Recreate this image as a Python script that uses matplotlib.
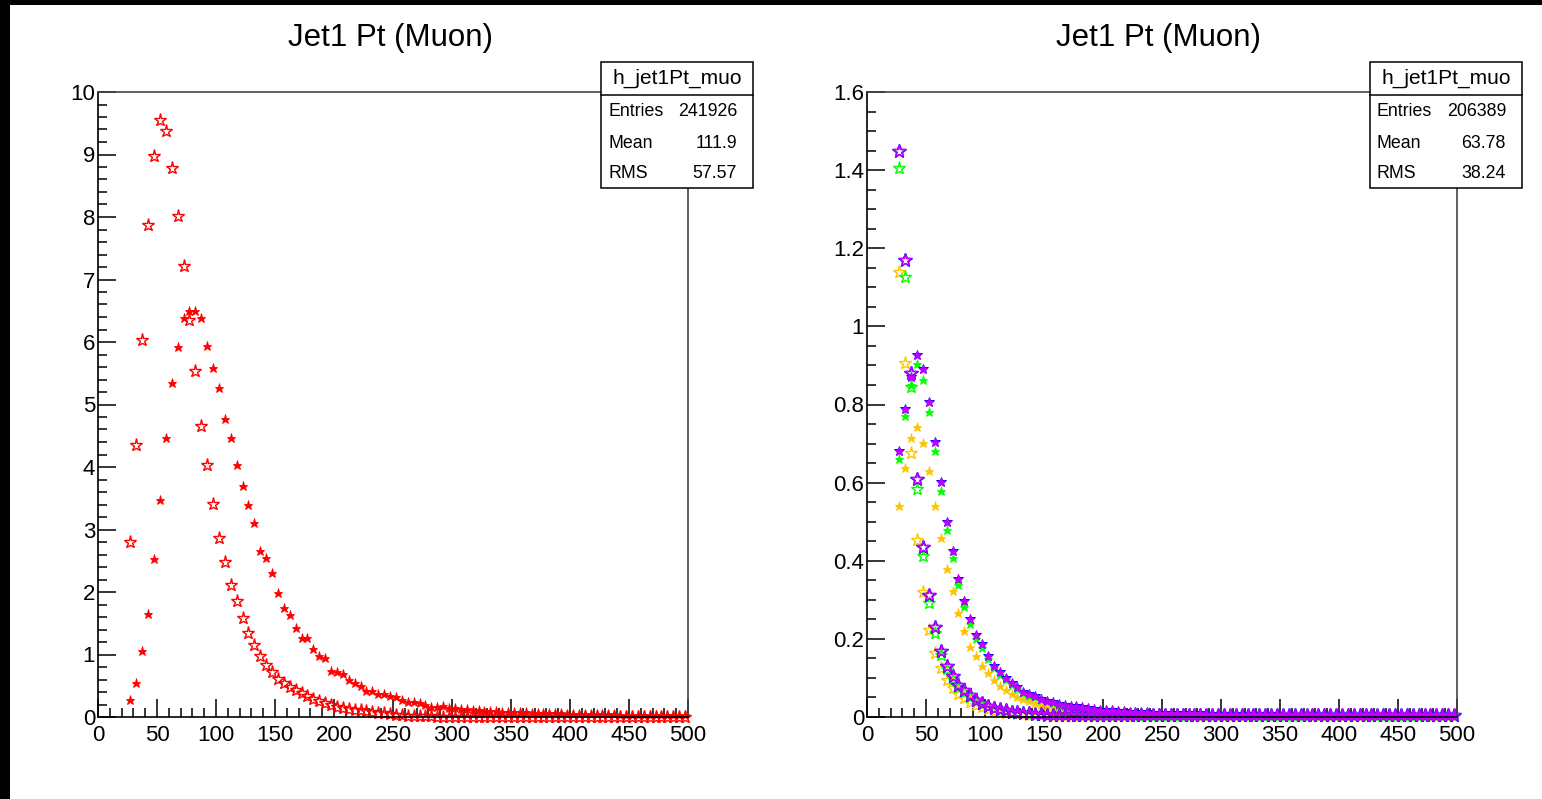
import numpy as np
import matplotlib
matplotlib.use("Agg")
import matplotlib.pyplot as plt
from matplotlib.patches import Rectangle
from matplotlib.lines import Line2D
from matplotlib.ticker import MultipleLocator, FuncFormatter

plt.rcParams["font.family"] = ["Liberation Sans", "DejaVu Sans"]

W, H = 1542, 799
BIN_WIDTH = 5.0
FIRST_BIN_CENTER = 27.5

title = "Jet1 Pt (Muon)"
stats_name = "h_jet1Pt_muo"
stats_left = [("Entries", "241926"), ("Mean", "111.9"), ("RMS", "57.57")]
stats_right = [("Entries", "206389"), ("Mean", "63.78"), ("RMS", "38.24")]

# ---- left pad: two red histograms (open / filled star markers) ----
left_open = [
    2.80, 4.35, 6.03, 7.87, 8.97, 9.55, 9.37, 8.78, 8.02, 7.22,
    6.35, 5.53, 4.66, 4.03, 3.41, 2.86, 2.48, 2.12, 1.86, 1.58,
    1.35, 1.15, 0.98, 0.83, 0.72, 0.61, 0.54, 0.48, 0.44, 0.39,
    0.34, 0.29, 0.25, 0.22, 0.19, 0.165, 0.15, 0.135, 0.12, 0.105,
    0.095, 0.085, 0.07, 0.058, 0.046, 0.035, 0.028, 0.022, 0.017, 0.013,
    0.011, 0.009, 0.007, 0.006, 0.005, 0.005, 0.004, 0.004, 0.004, 0.003,
    0.003, 0.003, 0.003, 0.002, 0.002, 0.002, 0.002, 0.002, 0.002, 0.002,
    0.001, 0.002, 0.001, 0.001, 0.001, 0.001, 0.001, 0.001, 0.001, 0.001,
    0.001, 0.001, 0.001, 0.001, 0.001, 0.001, 0.001, 0.001, 0.001, 0.001,
    0.001, 0.001, 0.001, 0.001, 0.001,
]
left_filled = [
    0.27, 0.55, 1.05, 1.65, 2.53, 3.48, 4.47, 5.34, 5.92, 6.38,
    6.49, 6.50, 6.38, 5.93, 5.59, 5.27, 4.77, 4.47, 4.03, 3.69,
    3.40, 3.11, 2.66, 2.55, 2.30, 1.98, 1.75, 1.64, 1.43, 1.27,
    1.26, 1.09, 0.98, 0.94, 0.74, 0.72, 0.69, 0.59, 0.54, 0.50,
    0.42, 0.41, 0.37, 0.37, 0.33, 0.32, 0.28, 0.245, 0.245, 0.23,
    0.20, 0.165, 0.165, 0.17, 0.15, 0.14, 0.13, 0.125, 0.115, 0.11,
    0.10, 0.098, 0.092, 0.088, 0.085, 0.08, 0.078, 0.074, 0.07, 0.068,
    0.066, 0.062, 0.06, 0.058, 0.056, 0.055, 0.052, 0.05, 0.048, 0.046,
    0.045, 0.043, 0.042, 0.04, 0.038, 0.036, 0.035, 0.033, 0.032, 0.031,
    0.03, 0.028, 0.027, 0.026, 0.025,
]

# ---- right pad: orange / green / blue / violet histograms ----
orange_open = [
    1.14, 0.905, 0.675, 0.453, 0.321, 0.223, 0.165, 0.125, 0.095, 0.075,
    0.060, 0.048, 0.039, 0.031, 0.025, 0.020, 0.016, 0.013, 0.011, 0.009,
    0.008, 0.007, 0.006, 0.005, 0.004, 0.004, 0.003, 0.003, 0.003, 0.002,
    0.002, 0.002, 0.002, 0.002, 0.002, 0.002, 0.002, 0.002, 0.002, 0.002,
    0.002, 0.002, 0.002, 0.002, 0.002, 0.002, 0.002, 0.002, 0.002, 0.002,
    0.002, 0.002, 0.002, 0.002, 0.002, 0.002, 0.002, 0.002, 0.002, 0.002,
    0.002, 0.002, 0.002, 0.002, 0.002, 0.002, 0.002, 0.002, 0.002, 0.002,
    0.002, 0.002, 0.002, 0.002, 0.002, 0.002, 0.002, 0.002, 0.002, 0.002,
    0.002, 0.002, 0.002, 0.002, 0.002, 0.002, 0.002, 0.002, 0.002, 0.002,
    0.002, 0.002, 0.002, 0.002, 0.002,
]
orange_filled = [
    0.541, 0.637, 0.715, 0.743, 0.702, 0.63, 0.541, 0.457, 0.378, 0.323,
    0.265, 0.221, 0.18, 0.156, 0.131, 0.113, 0.095, 0.08, 0.069, 0.06,
    0.052, 0.045, 0.04, 0.035, 0.031, 0.028, 0.025, 0.022, 0.02, 0.018,
    0.017, 0.015, 0.014, 0.013, 0.012, 0.011, 0.010, 0.009, 0.009, 0.008,
    0.008, 0.007, 0.007, 0.007, 0.006, 0.006, 0.006, 0.006, 0.005, 0.005,
    0.005, 0.005, 0.005, 0.005, 0.004, 0.004, 0.004, 0.004, 0.004, 0.004,
    0.004, 0.004, 0.004, 0.004, 0.004, 0.004, 0.004, 0.004, 0.004, 0.004,
    0.004, 0.004, 0.004, 0.004, 0.004, 0.004, 0.004, 0.004, 0.004, 0.004,
    0.004, 0.004, 0.004, 0.004, 0.004, 0.004, 0.004, 0.004, 0.004, 0.004,
    0.004, 0.004, 0.004, 0.004, 0.004,
]
green_open = [
    1.405, 1.127, 0.846, 0.583, 0.412, 0.291, 0.215, 0.160, 0.122, 0.098,
    0.077, 0.064, 0.052, 0.041, 0.033, 0.027, 0.022, 0.018, 0.015, 0.013,
    0.011, 0.009, 0.008, 0.007, 0.006, 0.005, 0.005, 0.004, 0.004, 0.004,
    0.003, 0.003, 0.003, 0.003, 0.003, 0.003, 0.003, 0.003, 0.003, 0.003,
    0.003, 0.003, 0.003, 0.003, 0.003, 0.003, 0.003, 0.003, 0.003, 0.003,
    0.003, 0.003, 0.003, 0.003, 0.003, 0.003, 0.003, 0.003, 0.003, 0.003,
    0.003, 0.003, 0.003, 0.003, 0.003, 0.003, 0.003, 0.003, 0.003, 0.003,
    0.003, 0.003, 0.003, 0.003, 0.003, 0.003, 0.003, 0.003, 0.003, 0.003,
    0.003, 0.003, 0.003, 0.003, 0.003, 0.003, 0.003, 0.003, 0.003, 0.003,
    0.003, 0.003, 0.003, 0.003, 0.003,
]
green_filled = [
    0.66, 0.77, 0.85, 0.903, 0.863, 0.782, 0.681, 0.579, 0.48, 0.408,
    0.337, 0.282, 0.238, 0.200, 0.176, 0.148, 0.125, 0.108, 0.094, 0.083,
    0.072, 0.062, 0.055, 0.050, 0.044, 0.040, 0.036, 0.032, 0.029, 0.027,
    0.025, 0.023, 0.021, 0.019, 0.018, 0.017, 0.016, 0.015, 0.014, 0.013,
    0.012, 0.011, 0.011, 0.010, 0.010, 0.009, 0.009, 0.009, 0.008, 0.008,
    0.008, 0.008, 0.007, 0.007, 0.007, 0.007, 0.007, 0.006, 0.006, 0.006,
    0.006, 0.006, 0.006, 0.006, 0.006, 0.006, 0.005, 0.005, 0.005, 0.005,
    0.005, 0.005, 0.005, 0.005, 0.005, 0.005, 0.005, 0.005, 0.005, 0.005,
    0.005, 0.005, 0.005, 0.005, 0.005, 0.005, 0.005, 0.005, 0.005, 0.005,
    0.005, 0.005, 0.005, 0.005, 0.005,
]
violet_open = [
    1.45, 1.17, 0.881, 0.609, 0.436, 0.312, 0.231, 0.170, 0.131, 0.105,
    0.082, 0.069, 0.056, 0.044, 0.035, 0.029, 0.024, 0.020, 0.017, 0.014,
    0.012, 0.010, 0.009, 0.008, 0.007, 0.006, 0.005, 0.005, 0.005, 0.004,
    0.004, 0.004, 0.004, 0.004, 0.004, 0.004, 0.004, 0.004, 0.004, 0.004,
    0.004, 0.004, 0.004, 0.004, 0.004, 0.004, 0.004, 0.004, 0.004, 0.004,
    0.004, 0.004, 0.004, 0.004, 0.004, 0.004, 0.004, 0.004, 0.004, 0.004,
    0.004, 0.004, 0.004, 0.004, 0.004, 0.004, 0.004, 0.004, 0.004, 0.004,
    0.004, 0.004, 0.004, 0.004, 0.004, 0.004, 0.004, 0.004, 0.004, 0.004,
    0.004, 0.004, 0.004, 0.004, 0.004, 0.004, 0.004, 0.004, 0.004, 0.004,
    0.004, 0.004, 0.004, 0.004, 0.004,
]
violet_filled = [
    0.68, 0.788, 0.87, 0.927, 0.89, 0.807, 0.705, 0.601, 0.50, 0.426,
    0.353, 0.297, 0.251, 0.21, 0.186, 0.156, 0.131, 0.114, 0.099, 0.088,
    0.076, 0.065, 0.058, 0.053, 0.047, 0.042, 0.038, 0.034, 0.031, 0.029,
    0.027, 0.025, 0.023, 0.021, 0.019, 0.018, 0.017, 0.016, 0.015, 0.014,
    0.013, 0.012, 0.012, 0.011, 0.011, 0.010, 0.010, 0.010, 0.009, 0.009,
    0.009, 0.009, 0.008, 0.008, 0.008, 0.008, 0.008, 0.007, 0.007, 0.007,
    0.007, 0.007, 0.007, 0.007, 0.006, 0.006, 0.006, 0.006, 0.006, 0.006,
    0.006, 0.006, 0.006, 0.006, 0.006, 0.006, 0.006, 0.006, 0.006, 0.006,
    0.006, 0.006, 0.006, 0.006, 0.006, 0.006, 0.006, 0.006, 0.006, 0.006,
    0.006, 0.006, 0.006, 0.006, 0.006,
]

RED = "#ff0000"
ORANGE = "#ffc400"
GREEN = "#00ff00"
BLUE = "#0000ff"
VIOLET = "#c400ff"


def fx(x):
    return x / W


def fy(y):
    return 1.0 - y / H


def bin_centers(vals):
    return FIRST_BIN_CENTER + BIN_WIDTH * np.arange(len(vals))


def draw_hist(ax, vals, color, filled, grow=0.0):
    x = bin_centers(vals)
    if filled:
        ax.plot(x, vals, ls="none", marker="*", ms=6.6 + grow, mfc=color,
                mec=color, mew=0.6, clip_on=False)
    else:
        ax.plot(x, vals, ls="none", marker="*", ms=9.5 + grow, mfc="none",
                mec=color, mew=1.0, clip_on=False)


def style_axes(ax, ymax, ymajor, yminor, yfmt):
    ax.set_xlim(0, 500)
    ax.set_ylim(0, ymax)
    ax.xaxis.set_major_locator(MultipleLocator(50))
    ax.xaxis.set_minor_locator(MultipleLocator(10))
    ax.yaxis.set_major_locator(MultipleLocator(ymajor))
    ax.yaxis.set_minor_locator(MultipleLocator(yminor))
    ax.yaxis.set_major_formatter(FuncFormatter(yfmt))
    ax.xaxis.set_major_formatter(FuncFormatter(lambda v, p: f"{v:g}"))
    ax.tick_params(which="both", direction="in", width=1.1, colors="black",
                   labelsize=16, top=False, right=False)
    ax.tick_params(which="major", length=13)
    ax.tick_params(which="minor", length=6.5)
    ax.tick_params(axis="y", pad=2)
    ax.tick_params(axis="x", pad=6)
    for side in ("left", "bottom"):
        ax.spines[side].set_color("black")
        ax.spines[side].set_linewidth(1.2)
    for side in ("top", "right"):
        ax.spines[side].set_color("#444444")
        ax.spines[side].set_linewidth(1.2)


def stats_box(fig, x0, rows):
    bw, top, bottom = 152, 62, 188
    fig.add_artist(Rectangle((fx(x0), fy(bottom)), bw / W, (bottom - top) / H,
                             transform=fig.transFigure, fc="white",
                             ec="black", lw=1.1, zorder=5))
    fig.add_artist(Line2D([fx(x0), fx(x0 + bw)], [fy(95), fy(95)],
                          transform=fig.transFigure, color="black", lw=1.1,
                          zorder=6))
    fig.text(fx(x0 + bw / 2), fy(78), stats_name, ha="center", va="center",
             fontsize=15, zorder=7)
    for (lab, val), y in zip(rows, (112, 143, 173)):
        fig.text(fx(x0 + 7), fy(y), lab, ha="left", va="center",
                 fontsize=12.8, zorder=7)
        fig.text(fx(x0 + 136), fy(y), val, ha="right", va="center",
                 fontsize=12.8, zorder=7)


fig = plt.figure(figsize=(W / 100, H / 100), dpi=100, facecolor="white")

ax_l = fig.add_axes([fx(98), fy(717), 590 / W, 625 / H])
ax_r = fig.add_axes([fx(867), fy(717), 590 / W, 625 / H])

# left pad
draw_hist(ax_l, left_open, RED, False)
draw_hist(ax_l, left_filled, RED, True)
style_axes(ax_l, 10, 1, 0.2, lambda v, p: f"{v:g}")

# right pad
draw_hist(ax_r, orange_open, ORANGE, False)
draw_hist(ax_r, orange_filled, ORANGE, True)
draw_hist(ax_r, green_open, GREEN, False)
draw_hist(ax_r, green_filled, GREEN, True)
draw_hist(ax_r, violet_open, BLUE, False, grow=0.5)
draw_hist(ax_r, violet_filled, BLUE, True, grow=0.6)
draw_hist(ax_r, violet_open, VIOLET, False)
draw_hist(ax_r, violet_filled, VIOLET, True)
style_axes(ax_r, 1.6, 0.2, 0.05, lambda v, p: f"{round(v, 2):g}")

fig.text(fx(390), fy(38), title, ha="center", va="center", fontsize=22.5)
fig.text(fx(1159), fy(38), title, ha="center", va="center", fontsize=22.5)

stats_box(fig, 601, stats_left)
stats_box(fig, 1370, stats_right)

# canvas border
fig.add_artist(Rectangle((0, fy(5)), 1, 5 / H, transform=fig.transFigure,
                         fc="black", ec="none", zorder=10))
fig.add_artist(Rectangle((0, 0), fx(10), 1, transform=fig.transFigure,
                         fc="black", ec="none", zorder=10))

fig.savefig("out.png", dpi=100, facecolor="white")
